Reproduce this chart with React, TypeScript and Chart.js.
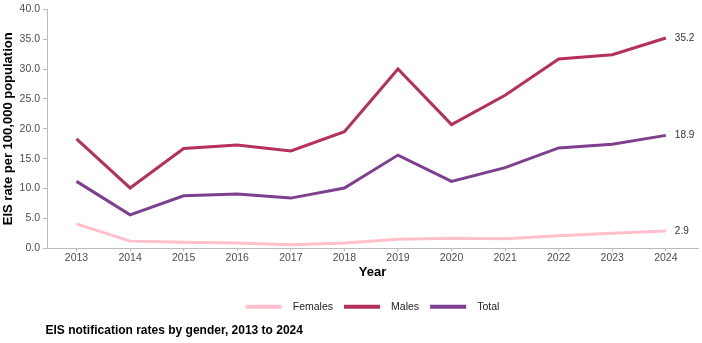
import React, { useEffect, useRef } from "react";
import { Chart, registerables } from "chart.js";

Chart.register(...registerables);

const years = [2013, 2014, 2015, 2016, 2017, 2018, 2019, 2020, 2021, 2022, 2023, 2024];
const females = [4.1, 1.2, 1.0, 0.9, 0.6, 0.9, 1.5, 1.7, 1.6, 2.1, 2.5, 2.9];
const males = [18.3, 10.1, 16.7, 17.3, 16.3, 19.5, 30.0, 20.7, 25.6, 31.7, 32.4, 35.2];
const total = [11.2, 5.6, 8.8, 9.1, 8.4, 10.1, 15.6, 11.2, 13.5, 16.8, 17.4, 18.9];
const seriesNames = ["Females", "Males", "Total"];
const seriesColors = ["#FFC0CB", "#B5305E", "#7D3F8E"];
const caption = "EIS notification rates by gender, 2013 to 2024";
const FONT = "'Liberation Sans', Arial, sans-serif";

const endLabels = {
  id: "endLabels",
  afterDatasetsDraw(chart: any) {
    const ctx = chart.ctx;
    ctx.save();
    ctx.font = `10px ${FONT}`;
    ctx.fillStyle = "#333333";
    ctx.textBaseline = "middle";
    ctx.textAlign = "left";
    chart.data.datasets.forEach((ds: any, i: number) => {
      const meta = chart.getDatasetMeta(i);
      const last = meta.data[meta.data.length - 1];
      const v = ds.data[ds.data.length - 1].y;
      ctx.fillText(v.toFixed(1), last.x + 9, last.y);
    });
    ctx.restore();
  },
};

const legendOnPanel = {
  id: "legendOnPanel",
  afterLayout(chart: any) {
    if (chart.legend) {
      chart.legend.left = chart.chartArea.left;
      chart.legend.right = chart.chartArea.right;
    }
  },
};

const captionPlugin = {
  id: "captionPlugin",
  afterDraw(chart: any) {
    const ctx = chart.ctx;
    ctx.save();
    ctx.font = `bold 12px ${FONT}`;
    ctx.fillStyle = "#000000";
    ctx.textBaseline = "middle";
    ctx.textAlign = "left";
    ctx.fillText(caption, chart.chartArea.left - 1.5, chart.height - 12.5);
    ctx.restore();
  },
};

export default function App() {
  const ref = useRef<HTMLCanvasElement>(null);
  useEffect(() => {
    if (!ref.current) return;
    const series = [females, males, total];
    const chart = new Chart(ref.current, {
      type: "line",
      data: {
        datasets: series.map((s, i) => ({
          label: seriesNames[i],
          data: years.map((y, j) => ({ x: y, y: s[j] })),
          borderColor: seriesColors[i],
          backgroundColor: seriesColors[i],
          borderWidth: 3,
          pointRadius: 0,
          tension: 0,
        })),
      },
      options: {
        animation: false,
        responsive: true,
        maintainAspectRatio: false,
        layout: { padding: { top: 0, right: 4, bottom: 21, left: 1 } },
        plugins: {
          tooltip: { enabled: false },
          legend: {
            position: "bottom",
            labels: {
              boxWidth: 36,
              boxHeight: 4,
              padding: 11,
              color: "#222",
              font: { family: FONT, size: 10.5 },
              generateLabels: (chart: any) => {
                const items = Chart.defaults.plugins.legend.labels.generateLabels(chart);
                return items.map((it: any) => ({ ...it, text: "  " + it.text, lineWidth: 0 }));
              },
            },
          },
        },
        scales: {
          x: {
            type: "linear",
            min: 2012.45,
            max: 2024.6,
            afterBuildTicks: (axis: any) => {
              axis.ticks = years.map((y) => ({ value: y }));
            },
            ticks: {
              color: "#4d4d4d",
              padding: 1,
              font: { family: FONT, size: 10.5 },
              callback: (v: any) => String(v),
              maxRotation: 0,
              autoSkip: false,
            },
            grid: { drawOnChartArea: false, tickLength: 3, color: "#bbbbbb" },
            border: { color: "#bbbbbb" },
            title: {
              display: true,
              text: "Year",
              color: "#000",
              font: { family: FONT, size: 13, weight: "bold" },
              padding: { top: -1, bottom: 10 },
            },
          },
          y: {
            min: 0,
            max: 40,
            ticks: {
              stepSize: 5,
              padding: 3,
              color: "#4d4d4d",
              font: { family: FONT, size: 10.5 },
              callback: (v: any) => Number(v).toFixed(1),
            },
            grid: { drawOnChartArea: false, tickLength: 4, color: "#bbbbbb" },
            border: { color: "#bbbbbb" },
            title: {
              display: true,
              text: "EIS rate per 100,000 population",
              color: "#000",
              font: { family: FONT, size: 13, weight: "bold" },
              padding: { top: 0, bottom: 0 },
            },
          },
        },
      },
      plugins: [endLabels, legendOnPanel, captionPlugin],
    } as any);
    return () => chart.destroy();
  }, []);
  return (
    <div style={{ position: "absolute", left: 0, top: 0, width: 702, height: 343 }}>
      <canvas ref={ref} />
    </div>
  );
}
